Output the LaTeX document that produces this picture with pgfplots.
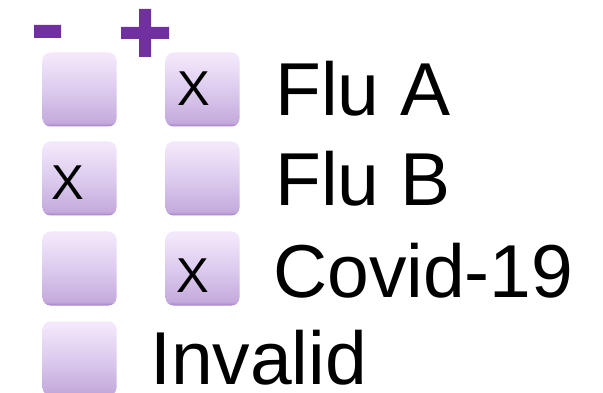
\documentclass[border=0pt]{standalone}
\usepackage{fontspec}
\setmainfont{Liberation Sans}
\usepackage{pgfplots}
\pgfplotsset{compat=1.18}
\definecolor{cPurple}{HTML}{7030A0}
\definecolor{cTop}{HTML}{F3E8FB}
\definecolor{cMid}{HTML}{DCCBEE}
\definecolor{cBot}{HTML}{C4AADC}
\definecolor{cEdge}{HTML}{A27CC8}
\pgfdeclareverticalshading{boxsh}{100bp}{color(0bp)=(cEdge); color(25bp)=(cEdge); color(27.5bp)=(cBot); color(50bp)=(cMid); color(73bp)=(cTop); color(100bp)=(cTop)}
\tikzset{cbox/.style={rounded corners=8pt, shading=boxsh, minimum width=74pt, minimum height=74pt, inner sep=0pt, draw=none}}
\begin{document}
\begin{tikzpicture}
\useasboundingbox (0,0) rectangle (603pt,393pt);
\begin{axis}[at={(0,0)}, anchor=south west,
  width=603pt, height=393pt, scale only axis,
  xmin=0, xmax=603, ymin=0, ymax=393, y dir=reverse,
  hide axis, clip=false]
% check boxes (centres)
\addplot[only marks, mark=none, nodes near coords={},
  every node near coord/.style={cbox, anchor=center}]
  coordinates {(79.5,89.5) (202.5,89.5) (79.5,178.5) (202.5,178.5)
               (79.5,268.5) (202.5,268.5) (79.5,358.5)};
% crosses
\addplot[only marks, mark=none, point meta=explicit symbolic, nodes near coords,
  every node near coord/.style={anchor=base west, inner sep=0pt, font=\fontsize{49}{52}\selectfont}]
  coordinates {(177,106) [X] (51,200) [X] (176,292) [X]};
% labels
\addplot[only marks, mark=none, point meta=explicit symbolic, nodes near coords,
  every node near coord/.style={anchor=base west, inner sep=0pt, font=\fontsize{75}{80}\selectfont}]
  coordinates {(275,116) [Flu A] (275,206) [Flu B] (273,298) [Covid-19] (150,384) [Invalid]};
% minus and plus
\addplot[fill=cPurple, draw=none] coordinates {(34,25) (61,25) (61,38) (34,38) (34,25)};
\addplot[fill=cPurple, draw=none] coordinates {(121,27) (169,27) (169,39) (121,39) (121,27)};
\addplot[fill=cPurple, draw=none] coordinates {(139,9) (151,9) (151,57) (139,57) (139,9)};
\end{axis}
\end{tikzpicture}
\end{document}
